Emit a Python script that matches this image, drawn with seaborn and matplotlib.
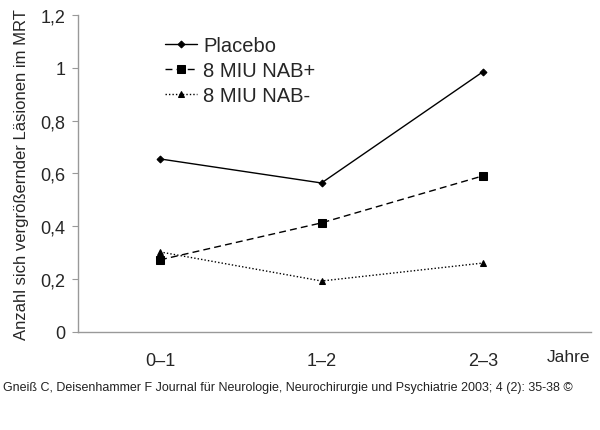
import pandas as pd
import matplotlib
matplotlib.use("Agg")
import matplotlib.pyplot as plt
from matplotlib.ticker import FuncFormatter
import seaborn as sns

# Data
periods = ["0–1", "1–2", "2–3"]
placebo = [0.655, 0.564, 0.985]
nab_plus = [0.273, 0.413, 0.591]
nab_minus = [0.303, 0.193, 0.261]
y_ticks = [0, 0.2, 0.4, 0.6, 0.8, 1.0, 1.2]

data = pd.DataFrame({
    "period": periods * 3,
    "value": placebo + nab_plus + nab_minus,
    "group": ["Placebo"] * 3 + ["8 MIU NAB+"] * 3 + ["8 MIU NAB-"] * 3,
})

sns.set_style("white")
plt.rcParams["font.family"] = ["Liberation Sans", "DejaVu Sans"]

fig = plt.figure(figsize=(6, 4.31), dpi=100)
ax = fig.add_axes([0.13, 0.2274, 0.855, 0.7356])

styles = {
    "Placebo": dict(marker="D", markersize=3.5, linestyle="-", linewidth=1.0),
    "8 MIU NAB+": dict(marker="s", markersize=6, linestyle=(0, (5, 3)), linewidth=1.0),
    "8 MIU NAB-": dict(marker="^", markersize=5, linestyle=(0, (1, 1.5)), linewidth=1.0),
}

for name, st in styles.items():
    sub = data[data["group"] == name]
    sns.lineplot(x="period", y="value", data=sub, ax=ax, color="black",
                 label=name, marker=st["marker"], markersize=st["markersize"],
                 linestyle=st["linestyle"], linewidth=st["linewidth"],
                 markeredgecolor="black")

ax.set_xlim(-0.508, 2.669)
ax.set_ylim(0, 1.2)
ax.set_yticks(y_ticks)
ax.yaxis.set_major_formatter(FuncFormatter(lambda v, p: f"{v:g}".replace(".", ",")))
ax.tick_params(axis="y", left=True, length=4, color="#999999", labelsize=13, pad=5)
ax.tick_params(axis="x", bottom=False, labelsize=13, pad=11)

for side in ["top", "right"]:
    ax.spines[side].set_visible(False)
for side in ["left", "bottom"]:
    ax.spines[side].set_color("#999999")
    ax.spines[side].set_linewidth(1.0)

ax.set_xlabel("")
ax.set_ylabel("Anzahl sich vergrößernder Läsionen im MRT", fontsize=12, labelpad=8)

leg = ax.legend(loc="upper left", bbox_to_anchor=(165 / 600, (431 - 37) / 431),
                bbox_transform=fig.transFigure, frameon=False, borderpad=0,
                borderaxespad=0, fontsize=14.5, handlelength=1.6,
                handletextpad=0.3, labelspacing=0.3)

fig.text(0.948, 0.17, "Jahre", fontsize=12.5, ha="center", va="center")
fig.text(0.005, 0.1, "Gneiß C, Deisenhammer F Journal für Neurologie, Neurochirurgie und Psychiatrie 2003; 4 (2): 35-38 ©",
         fontsize=9, ha="left", va="center", color="#222222")

fig.savefig("out.png", dpi=100)
